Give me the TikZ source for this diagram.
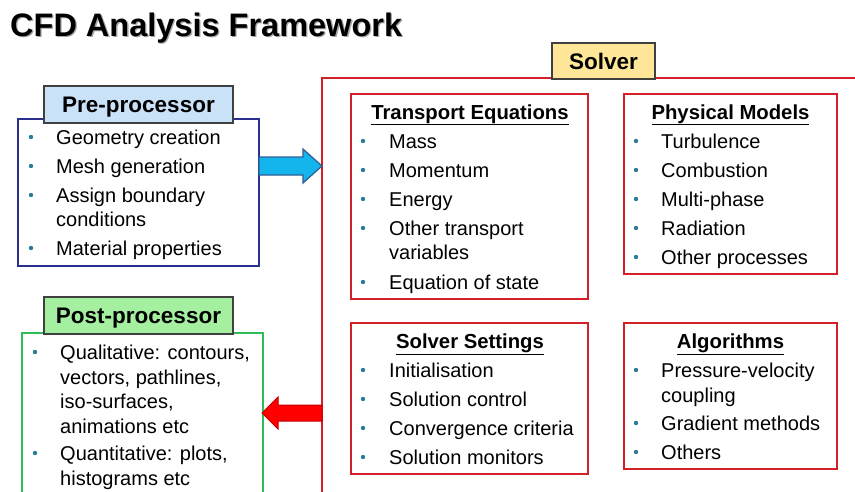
\documentclass[tikz,border=0pt]{standalone}
\usepackage{fontspec}
\setmainfont{Liberation Sans}
\definecolor{preblue}{HTML}{C9E2F8}
\definecolor{predark}{HTML}{2B2F8F}
\definecolor{solveryel}{HTML}{FFE699}
\definecolor{postgreen}{HTML}{A4F0A0}
\definecolor{postline}{HTML}{2DBE5A}
\definecolor{solred}{HTML}{D41F26}
\definecolor{labgray}{HTML}{404040}
\definecolor{bultea}{HTML}{2A7A9A}
\definecolor{arrowblue}{HTML}{14B4EC}
\definecolor{arrowblueline}{HTML}{2C5E96}
\definecolor{arrowred}{HTML}{FF0000}
\definecolor{arrowredline}{HTML}{C00000}
\begin{document}
\begin{tikzpicture}[x=1pt,y=-1pt,
  itemtxt/.style={anchor=base west,inner sep=0pt,font=\fontsize{20}{22}\selectfont},
  headtxt/.style={anchor=base,inner sep=0pt,font=\fontsize{20.3}{22}\selectfont\bfseries},
  labelbox/.style={draw=labgray,line width=1.2pt,inner sep=0pt,text height=16.1pt,text depth=0pt,font=\fontsize{22.5}{24}\selectfont\bfseries},
  bulletdot/.style={circle,fill=bultea,inner sep=0pt,minimum size=4.4pt},
  innerbox/.style={draw=solred,line width=1.6pt},
]
\useasboundingbox (0,0) rectangle (855,491);
\clip (0,0) rectangle (855,491);

% title with shadow
\node[anchor=base west,inner sep=0pt,text=black!35,font=\fontsize{32.5}{34}\selectfont\bfseries] at (11.3,37.3) {CFD Analysis Framework};
\node[anchor=base west,inner sep=0pt,font=\fontsize{32.5}{34}\selectfont\bfseries] (title) at (10,36) {CFD Analysis Framework};

% ---------- Pre-processor ----------
\draw[draw=predark,line width=1.5pt] (18,119) rectangle (259,266);
\coordinate (preE) at (259,166);
\node[labelbox,fill=preblue,minimum width=189pt,minimum height=37pt] (prelabel) at (138.5,104.5) {Pre-processor};
\foreach \n/\yy/\t/\b in {1/144/{Geometry creation}/1, 2/173/{Mesh generation}/1, 3/202/{Assign boundary}/1, 4/226/{conditions}/0, 5/255/{Material properties}/1}{
  \node[itemtxt] (pre\n) at (56,\yy) {\t};
  \ifnum\b=1 \node[bulletdot] (preb\n) at (31,\yy-7) {};\fi
}

% ---------- Post-processor ----------
\draw[draw=postline,line width=1.5pt] (22,333) rectangle (263,500);
\node[labelbox,fill=postgreen,minimum width=189pt,minimum height=37pt] (postlabel) at (138.5,315.5) {Post-processor};
\foreach \n/\yy/\t/\b in {1/359/{Qualitative: contours,}/1, 2/384/{vectors, pathlines,}/0, 3/408/{iso-surfaces,}/0, 4/433/{animations etc}/0, 5/460/{Quantitative: plots,}/1, 6/485/{histograms etc}/0}{
  \node[itemtxt] (post\n) at (60,\yy) {\t};
  \ifnum\b=1 \node[bulletdot] (postb\n) at (35,\yy-7) {};\fi
}

% ---------- Solver ----------
\draw[draw=solred,line width=1.6pt] (322,500) -- (322,78) -- (870,78);
\node[labelbox,fill=solveryel,minimum width=103pt,minimum height=36pt] (solverlabel) at (603.5,61) {Solver};

% Transport Equations
\draw[innerbox] (351,94) rectangle (588,299);
\node[headtxt] (teh) at (470,119) {\underline{Transport Equations}};
\foreach \n/\yy/\t/\b in {1/148/{Mass}/1, 2/177/{Momentum}/1, 3/206/{Energy}/1, 4/235/{Other transport}/1, 5/259/{variables}/0, 6/289/{Equation of state}/1}{
  \node[itemtxt] (te\n) at (389,\yy) {\t};
  \ifnum\b=1 \node[bulletdot] (teb\n) at (363,\yy-7) {};\fi
}

% Physical Models
\draw[innerbox] (624,94) rectangle (837,274);
\node[headtxt] (pmh) at (730.5,119) {\underline{Physical Models}};
\foreach \n/\yy/\t in {1/148/{Turbulence}, 2/177/{Combustion}, 3/206/{Multi-phase}, 4/235/{Radiation}, 5/264/{Other processes}}{
  \node[itemtxt] (pm\n) at (661,\yy) {\t};
  \node[bulletdot] (pmb\n) at (636,\yy-7) {};
}

% Solver Settings
\draw[innerbox] (351,323) rectangle (588,474);
\node[headtxt] (ssh) at (470,348) {\underline{Solver Settings}};
\foreach \n/\yy/\t in {1/377/{Initialisation}, 2/406/{Solution control}, 3/435/{Convergence criteria}, 4/464/{Solution monitors}}{
  \node[itemtxt] (ss\n) at (389,\yy) {\t};
  \node[bulletdot] (ssb\n) at (363,\yy-7) {};
}

% Algorithms
\draw[innerbox] (624,323) rectangle (837,469);
\node[headtxt] (alh) at (730.5,348) {\underline{Algorithms}};
\foreach \n/\yy/\t/\b in {1/377/{Pressure-velocity}/1, 2/402/{coupling}/0, 3/430/{Gradient methods}/1, 4/459/{Others}/1}{
  \node[itemtxt] (al\n) at (661,\yy) {\t};
  \ifnum\b=1 \node[bulletdot] (alb\n) at (636,\yy-7) {};\fi
}

% ---------- Arrows ----------
\coordinate (solW) at (322,166);
\filldraw[fill=arrowblue,draw=arrowblueline,line width=1.2pt,line join=miter]
  (preE |- 0,157) -- (303,157) -- (303,149) -- (solW) -- (303,183) -- (303,175) -- (preE |- 0,175) -- cycle;

\coordinate (postE) at (262,413);
\filldraw[fill=arrowred,draw=arrowredline,line width=1pt,line join=miter]
  (322,405) -- (278,405) -- (278,397) -- (postE) -- (278,429) -- (278,421) -- (322,421) -- cycle;
\end{tikzpicture}
\end{document}
